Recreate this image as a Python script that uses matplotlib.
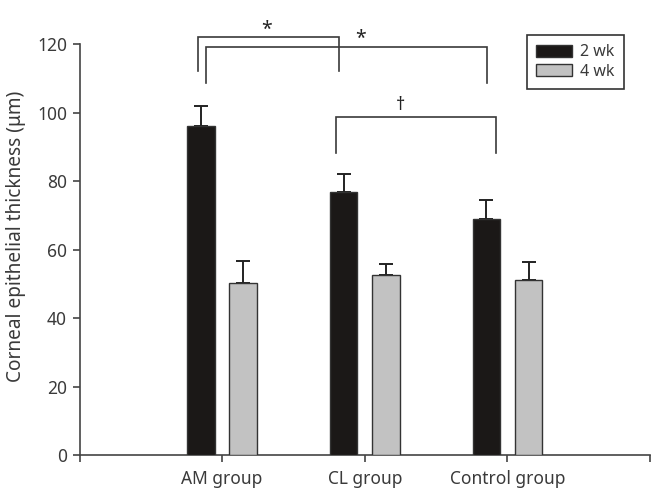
import matplotlib
matplotlib.use("Agg")
import matplotlib.pyplot as plt
import matplotlib.patches as mpatches
import numpy as np

plt.rcParams['font.family'] = ['Noto Sans', 'DejaVu Sans']

groups = ["AM group", "CL group", "Control group"]
wk2 = [96.0, 76.9, 68.8]
wk2_err = [6.0, 5.1, 5.7]
wk4 = [50.3, 52.5, 51.1]
wk4_err = [6.3, 3.2, 5.3]
series_labels = ["2 wk", "4 wk"]

# significance brackets: x left, x right, top, bottom, symbol, symbol x, symbol y
brackets = [
    (0.83, 1.82, 122.1, 112.1, "*", 1.31, 124.0),
    (0.89, 2.86, 119.0, 108.7, "*", 1.97, 121.4),
    (1.80, 2.92, 98.6, 88.1, "\u2020", 2.25, 102.2),
]

text_col = "#3a3a3a"
dark = "#1b1817"
grey = "#c2c2c2"

fig = plt.figure(figsize=(6.55, 4.91), dpi=100)
ax = fig.add_axes([0.1214, 0.0733, 0.871, 0.837])

x = np.arange(1, len(groups) + 1)
off = 0.148
w = 0.193

ax.bar(x - off, wk2, width=w, color=dark, edgecolor="#333333", linewidth=1.0, zorder=3)
ax.bar(x + off, wk4, width=w, color=grey, edgecolor="#333333", linewidth=1.0, zorder=3)
ax.errorbar(x - off, wk2, yerr=[np.zeros(3), wk2_err], fmt="none", ecolor="#222222",
            elinewidth=1.4, capsize=5, capthick=1.4, zorder=2)
ax.errorbar(x + off, wk4, yerr=[np.zeros(3), wk4_err], fmt="none", ecolor="#222222",
            elinewidth=1.4, capsize=5, capthick=1.4, zorder=2)

for xl, xr, top, bot, sym, sx, sy in brackets:
    ax.plot([xl, xl, xr, xr], [bot, top, top, bot], color="#3a3a3a", lw=1.2,
            clip_on=False, solid_joinstyle="miter")
    fs = 14 if sym == "*" else 13
    ax.text(sx, sy, sym, ha="center", va="center", fontsize=fs, color="#222222",
            clip_on=False)

ax.set_xlim(0, 4)
ax.set_ylim(0, 120)
ax.set_yticks(np.arange(0, 121, 20))
ax.set_xticks([0, 1, 2, 3, 4])
ax.set_xticklabels([""] + groups + [""])

for s in ["top", "right"]:
    ax.spines[s].set_visible(False)
for s in ["left", "bottom"]:
    ax.spines[s].set_color("#444444")
    ax.spines[s].set_linewidth(1.2)

ax.tick_params(axis="both", direction="out", length=5, width=1.2, color="#444444",
               labelsize=12.5, labelcolor=text_col, pad=4)
ax.tick_params(axis="x", pad=6)
ax.set_ylabel("Corneal epithelial thickness (\u03bcm)", fontsize=13.7, color=text_col)
ax.yaxis.set_label_coords(-0.094, 0.533)

handles = [mpatches.Patch(facecolor=dark, edgecolor="#333333", lw=1.0),
           mpatches.Patch(facecolor=grey, edgecolor="#333333", lw=1.0)]
leg = fig.legend(handles, series_labels, loc="upper right", bbox_to_anchor=(0.953, 0.929),
                 fontsize=11.5, frameon=True, fancybox=False, edgecolor="#333333",
                 framealpha=1, handlelength=2.25, handleheight=0.85, labelspacing=0.2,
                 borderpad=0.6, handletextpad=0.5, borderaxespad=0)
leg.get_frame().set_linewidth(1.2)
for t in leg.get_texts():
    t.set_color(text_col)

fig.savefig("out.png", dpi=100)
